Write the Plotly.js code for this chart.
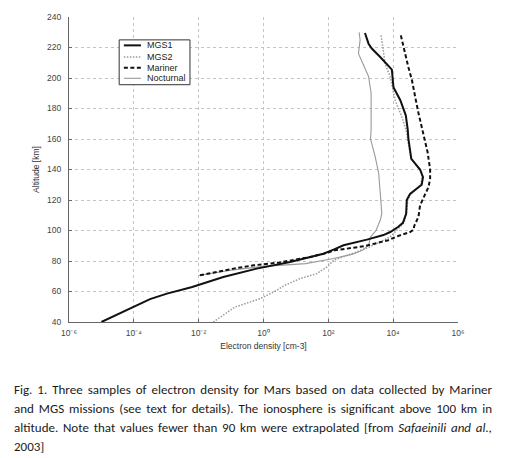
<!DOCTYPE html>
<html>
<head>
<meta charset="utf-8">
<script src="https://cdn.plot.ly/plotly-3.0.1.min.js"></script>
<style>
  html, body { margin: 0; padding: 0; background: #fff; }
  #wrap { position: relative; width: 507px; height: 458px; overflow: hidden; }
  #chart { position: absolute; left: 0; top: 0; width: 507px; height: 458px; }
  #caption { position: absolute; left: 14px; top: 380px; width: 478px;
             font-family: "Carlito", "Lato", "Liberation Sans", sans-serif;
             font-size: 13px; line-height: 19px; color: #1a1a1a; }
  #caption .ln { white-space: nowrap; display: block; font-size: 13px; }
  #caption i { font-size: 13px; }
</style>
</head>
<body>
<div id="wrap">
  <div id="chart"></div>
  <div id="caption">
    <span class="ln j" style="font-size:13px">Fig. 1. Three samples of electron density for Mars based on data collected by Mariner</span>
    <span class="ln j" style="font-size:13px">and MGS missions (see text for details). The ionosphere is significant above 100 km in</span>
    <span class="ln j" style="font-size:13px">altitude. Note that values fewer than 90 km were extrapolated [from <i style="font-size:13px">Safaeinili and al.,</i></span>
    <span class="ln" style="font-size:13px">2003]</span>
  </div>
</div>
<script>
// ---- Data (altitude in km, electron density in cm^-3) ----
const seriesNames = ["MGS1", "MGS2", "Mariner", "Nocturnal"];

const mgs1Alt = [40, 45, 50, 55, 58.6, 63, 69.5, 75, 79.4, 82, 84.8, 87.5, 90.3, 94, 97, 99, 102.3, 105,
  111, 120, 124, 130, 135, 140, 147, 160, 166, 175.5, 185.4, 194, 205.5, 213.8, 219.3, 222.5, 229.5];
const mgs1Den = [1.00e-5, 3.16e-5, 9.55e-5, 3.16e-4, 1.05e-3, 6.31e-3, 5.75e-2, 0.617, 6.61, 20.0, 70.8, 145, 295,
  1550, 5010, 8130, 14100, 20000, 25100, 26300, 33100, 75900, 83200, 67600, 36300, 29500, 28200, 24500,
  16600, 10200, 9120, 3980, 2190, 1740, 1350];

const mgs2Alt = [40, 45, 49.8, 55.3, 60.8, 64, 68.5, 71.7, 76, 78, 80.5, 83.8, 86, 89, 95.8, 102.3, 105, 112,
  120, 124, 130, 136, 140, 147, 160, 166, 174.4, 185.4, 200.7, 209.4, 220.3, 228.7];
const mgs2Den = [0.0282, 0.0631, 0.132, 0.794, 2.57, 4.47, 13.5, 43.7, 89.1, 112, 145, 398, 794, 1780, 8130,
  16600, 21400, 26300, 28200, 35500, 70800, 79400, 66100, 35500, 28200, 25100, 18600, 11500, 8130, 5620,
  4790, 4170];

const marinerAlt = [70.6, 73, 75, 77.2, 79, 81, 82.6, 85, 87, 89.7, 93.6, 96, 99, 100.5, 103, 109, 116.5, 123,
  128.5, 134, 140, 151.5, 165, 177, 187.5, 198.5, 207, 216, 229.5];
const marinerDen = [0.011, 0.0398, 0.117, 0.501, 3.16, 10.0, 27.5, 79.4, 158, 1260, 7080, 12600, 33100, 42700,
  44700, 60300, 67600, 93300, 123000, 138000, 138000, 115000, 79400, 60300, 47900, 38000, 29500, 23400, 16600];

const noctAlt = [70.5, 74, 76.5, 78.3, 81.6, 84.5, 87, 90.3, 95.7, 100, 106.7, 111, 125, 138, 149, 160, 166,
  190, 201, 209, 216, 225, 230];
const noctDen = [0.01, 0.1, 1.0, 20.0, 145, 562, 1120, 1740, 2000, 2950, 3980, 4470, 3980, 3550, 2750, 2000,
  2090, 2090, 1740, 1200, 851, 955, 891];

const xTickVals = [1e-6, 1e-4, 1e-2, 1, 1e2, 1e4, 1e6];
const xTickText = ["10\u207B\u2076", "10\u207B\u2074", "10\u207B\u00B2", "10\u2070", "10\u00B2", "10\u2074", "10\u2076"];
const yTickVals = [40, 60, 80, 100, 120, 140, 160, 180, 200, 220, 240];

// ---- Styles ----
const styles = [
  {color: "#111111", width: 2.0, dash: "solid"},
  {color: "#9a9a9a", width: 1.5, dash: "1.5px,1.5px"},
  {color: "#111111", width: 2.0, dash: "4px,2.5px"},
  {color: "#9a9a9a", width: 1.1, dash: "solid"}
];
const xs = [mgs1Den, mgs2Den, marinerDen, noctDen];
const ys = [mgs1Alt, mgs2Alt, marinerAlt, noctAlt];
const order = [3, 1, 0, 2];

const traces = order.map(i => ({
  type: "scatter", mode: "lines", name: seriesNames[i],
  x: xs[i], y: ys[i], line: styles[i], showlegend: false, hoverinfo: "skip"
}));

// ---- Custom compact legend (paper coordinates) ----
const legX0 = 0.129, legX1 = 0.311, legY0 = 0.778, legY1 = 0.925;
const entryY = [0.907, 0.869, 0.834, 0.799];
const shapes = [{type: "rect", xref: "paper", yref: "paper", x0: legX0, x1: legX1, y0: legY0, y1: legY1,
  line: {color: "#333", width: 1}, fillcolor: "#ffffff", layer: "above"}];
const annotations = [];
seriesNames.forEach((n, i) => {
  shapes.push({type: "line", xref: "paper", yref: "paper", x0: 0.141, x1: 0.185, y0: entryY[i], y1: entryY[i],
    line: {color: styles[i].color, width: styles[i].width, dash: styles[i].dash}, layer: "above"});
  annotations.push({xref: "paper", yref: "paper", x: 0.195, y: entryY[i], xanchor: "left", yanchor: "middle",
    text: n, showarrow: false, font: {size: 9, color: "#222", family: "Liberation Sans, Arial, sans-serif"}});
});

const layout = {
  width: 507, height: 458,
  margin: {l: 69, r: 49, t: 17, b: 136, pad: 0},
  paper_bgcolor: "#ffffff", plot_bgcolor: "#ffffff",
  font: {family: "Liberation Sans, Arial, sans-serif", size: 9, color: "#333"},
  showlegend: false,
  xaxis: {
    type: "log", range: [-6, 6], tickvals: xTickVals, ticktext: xTickText,
    showgrid: true, gridcolor: "#c4c4c4", griddash: "dot", gridwidth: 1,
    showline: true, linecolor: "#666", linewidth: 1,
    ticks: "inside", ticklen: 3, tickcolor: "#666", ticklabelstandoff: 3,
    tickfont: {size: 8.5, color: "#444"}, zeroline: false,
    title: {text: "Electron density [cm-3]", font: {size: 8.5, color: "#333"}, standoff: 5}
  },
  yaxis: {
    range: [40, 240], tickvals: yTickVals,
    showgrid: true, gridcolor: "#c4c4c4", griddash: "dot", gridwidth: 1,
    showline: true, linecolor: "#666", linewidth: 1,
    ticks: "inside", ticklen: 3, tickcolor: "#666", ticklabelstandoff: 5,
    tickfont: {size: 8.5, color: "#444"}, zeroline: false,
    title: {text: "Altitude [km]", font: {size: 8.5, color: "#333"}, standoff: 6}
  },
  shapes: shapes,
  annotations: annotations
};

Plotly.newPlot("chart", traces, layout, {displayModeBar: false, staticPlot: true}).then(() => {
  // justify caption lines to the full width
  const W = 478;
  document.querySelectorAll("#caption .j").forEach(el => {
    el.style.display = "inline-block";
    const w = el.getBoundingClientRect().width;
    const spaces = (el.textContent.match(/ /g) || []).length;
    if (spaces > 0) el.style.wordSpacing = ((W - w) / spaces) + "px";
    el.style.display = "block";
  });
});
</script>
</body>
</html>
